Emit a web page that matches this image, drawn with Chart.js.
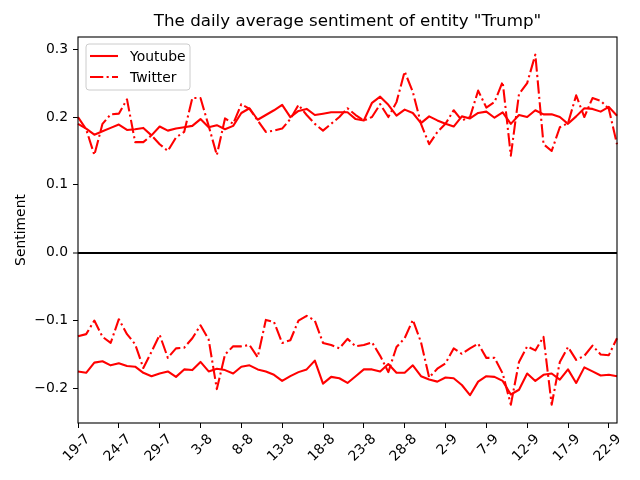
<!DOCTYPE html>
<html>
<head>
<meta charset="utf-8">
<script src="https://cdn.jsdelivr.net/npm/chart.js@4.4.1/dist/chart.umd.min.js"></script>
<style>
  body { margin: 0; background: #fff; }
  #wrap { width: 640px; height: 480px; }
</style>
</head>
<body>
<div id="wrap"><canvas id="chart" width="640" height="480"></canvas></div>
<script>
// day labels, 19-7 .. 23-9
const days = [
  "19-7","20-7","21-7","22-7","23-7","24-7","25-7","26-7","27-7","28-7","29-7","30-7","31-7",
  "1-8","2-8","3-8","4-8","5-8","6-8","7-8","8-8","9-8","10-8","11-8","12-8","13-8","14-8",
  "15-8","16-8","17-8","18-8","19-8","20-8","21-8","22-8","23-8","24-8","25-8","26-8","27-8",
  "28-8","29-8","30-8","31-8",
  "1-9","2-9","3-9","4-9","5-9","6-9","7-9","8-9","9-9","10-9","11-9","12-9","13-9","14-9",
  "15-9","16-9","17-9","18-9","19-9","20-9","21-9","22-9","23-9"
];

const youtubePos = [
  0.190, 0.183, 0.174, 0.179, 0.184, 0.189, 0.181, 0.182, 0.184, 0.173,
  0.186, 0.180, 0.183, 0.185, 0.187, 0.197, 0.185, 0.188, 0.182, 0.187,
  0.206, 0.213, 0.196, 0.203, 0.210, 0.218, 0.200, 0.209, 0.212, 0.203,
  0.205, 0.207, 0.207, 0.207, 0.197, 0.195, 0.221, 0.230, 0.218, 0.202,
  0.211, 0.206, 0.191, 0.201, 0.195, 0.190, 0.186, 0.201, 0.198, 0.206,
  0.208, 0.199, 0.207, 0.190, 0.203, 0.200, 0.210, 0.204, 0.204, 0.200,
  0.190, 0.201, 0.213, 0.212, 0.208, 0.215, 0.202
];

const twitterPos = [
  0.200, 0.182, 0.144, 0.190, 0.204, 0.205, 0.226, 0.163, 0.163, 0.173,
  0.160, 0.150, 0.170, 0.178, 0.228, 0.228, 0.187, 0.144, 0.198, 0.190,
  0.219, 0.212, 0.195, 0.178, 0.180, 0.183, 0.197, 0.218, 0.203, 0.190,
  0.180, 0.190, 0.200, 0.213, 0.203, 0.195, 0.200, 0.219, 0.200, 0.222,
  0.267, 0.237, 0.190, 0.160, 0.178, 0.190, 0.210, 0.195, 0.200, 0.239,
  0.214, 0.222, 0.252, 0.143, 0.234, 0.250, 0.292, 0.160, 0.150, 0.185,
  0.191, 0.232, 0.200, 0.228, 0.224, 0.212, 0.160
];

const youtubeNeg = [
  -0.175, -0.177, -0.162, -0.160, -0.166, -0.163, -0.167, -0.168, -0.177, -0.182,
  -0.178, -0.175, -0.183, -0.172, -0.173, -0.161, -0.175, -0.171, -0.173, -0.178,
  -0.168, -0.166, -0.172, -0.175, -0.180, -0.189, -0.182, -0.176, -0.172, -0.159,
  -0.193, -0.183, -0.185, -0.192, -0.182, -0.172, -0.172, -0.175, -0.164, -0.177,
  -0.177, -0.166, -0.182, -0.187, -0.190, -0.184, -0.185, -0.195, -0.210, -0.190,
  -0.182, -0.183, -0.189, -0.209, -0.202, -0.178, -0.189, -0.180, -0.178, -0.187,
  -0.172, -0.192, -0.169, -0.175, -0.181, -0.180, -0.182
];

const twitterNeg = [
  -0.123, -0.120, -0.100, -0.124, -0.133, -0.098, -0.120, -0.135, -0.170, -0.146,
  -0.121, -0.155, -0.141, -0.140, -0.126, -0.107, -0.128, -0.201, -0.150, -0.138,
  -0.138, -0.136, -0.154, -0.099, -0.102, -0.133, -0.129, -0.100, -0.093, -0.100,
  -0.133, -0.136, -0.141, -0.127, -0.138, -0.136, -0.132, -0.152, -0.176, -0.139,
  -0.126, -0.099, -0.132, -0.184, -0.171, -0.163, -0.141, -0.149, -0.141, -0.134,
  -0.155, -0.155, -0.178, -0.224, -0.161, -0.138, -0.144, -0.124, -0.224, -0.161,
  -0.139, -0.158, -0.152, -0.137, -0.150, -0.151, -0.126
];

// every 5th day gets a tick
const xTickIdx = [0, 5, 10, 15, 20, 25, 30, 35, 40, 45, 50, 55, 60, 65];
const yTicks = [-0.2, -0.1, 0, 0.1, 0.2, 0.3];

const TITLE = 'The daily average sentiment of entity "Trump"';
const RED = "#ff0000";
const DASHDOT = [13.3, 3.3, 2.1, 3.3];
const FONT = "'DejaVu Sans', sans-serif";

Chart.defaults.font.family = FONT;
Chart.defaults.color = "#000";

// box around the plot area (matplotlib spines) + title centred over it
const frame = {
  id: "frame",
  afterDraw(chart) {
    const { ctx, chartArea: a } = chart;
    ctx.save();
    ctx.strokeStyle = "#000";
    ctx.lineWidth = 1.1;
    ctx.strokeRect(a.left, a.top, a.right - a.left, a.bottom - a.top);
    ctx.font = "16.7px " + FONT;
    ctx.fillStyle = "#000";
    ctx.textAlign = "center";
    ctx.textBaseline = "middle";
    ctx.fillText(TITLE, (a.left + a.right) / 2, 22);
    ctx.restore();
  }
};

// legend inside the plot, upper left
const innerLegend = {
  id: "innerLegend",
  afterDraw(chart) {
    const { ctx, chartArea: a } = chart;
    const items = chart.data.datasets.filter(ds => ds.inLegend);
    const x = a.left + 8, y = a.top + 7, w = 104, h = 46;
    ctx.save();
    ctx.beginPath();
    ctx.roundRect(x, y, w, h, 3);
    ctx.fillStyle = "rgba(255,255,255,0.8)";
    ctx.fill();
    ctx.strokeStyle = "#cccccc";
    ctx.lineWidth = 1;
    ctx.stroke();
    ctx.font = "13.9px " + FONT;
    ctx.textBaseline = "middle";
    items.forEach((ds, i) => {
      const ly = y + 12 + i * 21;
      ctx.beginPath();
      ctx.setLineDash(ds.borderDash || []);
      ctx.strokeStyle = ds.borderColor;
      ctx.lineWidth = ds.borderWidth;
      ctx.moveTo(x + 4, ly);
      ctx.lineTo(x + 32, ly);
      ctx.stroke();
      ctx.setLineDash([]);
      ctx.fillStyle = "#000";
      ctx.fillText(ds.label, x + 44, ly + 1);
    });
    ctx.restore();
  }
};

function lineSet(label, values, dash, inLegend) {
  return {
    label: label,
    data: values,
    borderColor: RED,
    borderWidth: 2.08,
    borderDash: dash,
    borderJoinStyle: "round",
    borderCapStyle: "butt",
    pointRadius: 0,
    tension: 0,
    fill: false,
    inLegend: inLegend
  };
}

const fmt = v => (v < 0 ? "\u2212" : "") + Math.abs(v).toFixed(1);

new Chart(document.getElementById("chart"), {
  type: "line",
  data: {
    labels: days,
    datasets: [
      lineSet("Youtube", youtubePos, [], true),
      lineSet("Twitter", twitterPos, DASHDOT, true),
      lineSet("Youtube", youtubeNeg, [], false),
      lineSet("Twitter", twitterNeg, DASHDOT, false)
    ]
  },
  options: {
    responsive: false,
    devicePixelRatio: 1,
    animation: false,
    layout: { padding: { left: 0, right: 23, top: 37, bottom: 0 } },
    plugins: {
      legend: { display: false },
      tooltip: { enabled: false },
      title: { display: false }
    },
    scales: {
      x: {
        type: "category",
        border: { display: false },
        grid: { display: true, drawOnChartArea: false, drawTicks: true, tickLength: 5, color: "#000", tickWidth: 1 },
        ticks: {
          autoSkip: false,
          minRotation: 45,
          maxRotation: 45,
          padding: 3,
          labelOffset: 10,
          color: "#000",
          font: { size: 13.9 },
          callback: v => days[v]
        },
        afterBuildTicks(scale) {
          scale.ticks = xTickIdx.map(i => ({ value: i }));
        },
        afterFit(scale) {
          scale.height = 57;
          scale.paddingLeft = 0;
          scale.paddingRight = 0;
        }
      },
      y: {
        type: "linear",
        min: -0.251,
        max: 0.318,
        border: { display: false },
        grid: {
          drawOnChartArea: true,
          drawTicks: true,
          tickLength: 5,
          tickColor: "#000",
          tickWidth: 1,
          color: c => (c.tick && c.tick.value === 0 ? "#000" : "rgba(0,0,0,0)"),
          lineWidth: c => (c.tick && c.tick.value === 0 ? 2 : 1)
        },
        ticks: { padding: 5, color: "#000", font: { size: 13.9 }, callback: fmt },
        title: {
          display: true,
          text: "Sentiment",
          color: "#000",
          font: { size: 13.9 },
          padding: { top: 13, bottom: 0 }
        },
        afterBuildTicks(scale) {
          scale.ticks = yTicks.map(v => ({ value: v }));
        },
        afterFit(scale) {
          scale.width = 78;
          scale.paddingTop = 0;
          scale.paddingBottom = 0;
        }
      }
    }
  },
  plugins: [frame, innerLegend]
});
</script>
</body>
</html>
